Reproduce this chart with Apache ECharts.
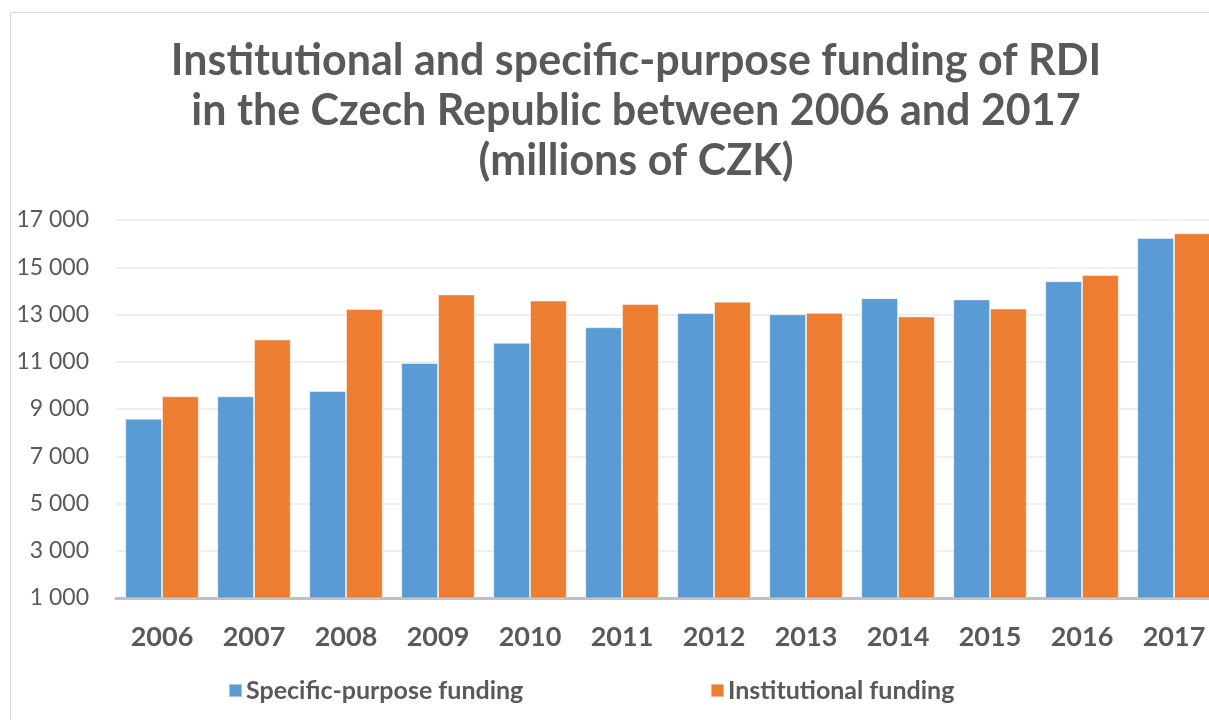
<!DOCTYPE html>
<html>
<head>
<meta charset="utf-8">
<script src="https://cdn.jsdelivr.net/npm/echarts@6/dist/echarts.min.js"></script>
<style>
  html, body { margin: 0; padding: 0; background: #fff; }
  #chart { width: 1209px; height: 720px; }
</style>
</head>
<body>
<div id="chart"></div>
<script>
var years = ['2006', '2007', '2008', '2009', '2010', '2011', '2012', '2013', '2014', '2015', '2016', '2017'];
var specificPurpose = [8590, 9540, 9760, 10950, 11800, 12460, 13060, 13010, 13690, 13640, 14410, 16240];
var institutional = [9540, 11940, 13230, 13850, 13590, 13440, 13540, 13070, 12920, 13250, 14670, 16440];
var yTicks = { min: 1000, max: 17000, step: 2000 };

var font = 'Lato, "Open Sans", sans-serif';
var grey = '#595959';

var myChart = echarts.init(document.getElementById('chart'), null, { renderer: 'canvas' });

function spaced(v) {
    return String(v).replace(/\B(?=(\d{3})+(?!\d))/g, ' ');
}

myChart.setOption({
    backgroundColor: '#fff',
    animation: false,
    title: {
        text: 'Institutional and specific-purpose funding of RDI\nin the Czech Republic between 2006 and 2017\n(millions of CZK)',
        left: 636,
        textAlign: 'center',
        top: 36,
        padding: 0,
        textStyle: {
            fontFamily: font,
            fontSize: 43,
            fontWeight: 'bold',
            color: grey,
            lineHeight: 50
        }
    },
    graphic: [{
        type: 'rect',
        shape: { x: 10.5, y: 12.5, width: 1400, height: 900 },
        style: { fill: 'none', stroke: '#d9d9d9', lineWidth: 1 },
        silent: true
    }],
    legend: [{
        data: ['Specific-purpose funding'],
        left: 223,
        top: 673,
        icon: 'rect',
        itemWidth: 13,
        itemHeight: 13,
        itemGap: 8,
        textStyle: { fontFamily: font, fontSize: 25, fontWeight: 'bold', color: grey, padding: [0, 0, 0, -1] }
    }, {
        data: ['Institutional funding'],
        left: 705,
        top: 673,
        icon: 'rect',
        itemWidth: 13,
        itemHeight: 13,
        textStyle: { fontFamily: font, fontSize: 25, fontWeight: 'bold', color: grey, padding: [0, 0, 0, -1] }
    }],
    grid: {
        left: 116,
        top: 220,
        width: 1104,
        height: 378,
        containLabel: false,
        outerBoundsMode: 'none'
    },
    xAxis: {
        type: 'category',
        data: years,
        axisTick: { show: false },
        axisLine: { lineStyle: { color: '#bfbfbf', width: 3 } },
        axisLabel: {
            margin: 26,
            fontFamily: font,
            fontSize: 27,
            fontWeight: 'bold',
            color: grey
        }
    },
    yAxis: {
        type: 'value',
        min: yTicks.min,
        max: yTicks.max,
        interval: yTicks.step,
        axisLine: { show: false },
        axisTick: { show: false },
        splitLine: { lineStyle: { color: '#efefef', width: 2 } },
        axisLabel: {
            margin: 27,
            fontFamily: font,
            fontSize: 23,
            color: grey,
            formatter: spaced
        }
    },
    series: [{
        name: 'Specific-purpose funding',
        type: 'bar',
        data: specificPurpose,
        barGap: '0%',
        barCategoryGap: '20%',
        itemStyle: { color: '#5b9bd5', borderColor: 'rgba(255,255,255,0.45)', borderWidth: 1 }
    }, {
        name: 'Institutional funding',
        type: 'bar',
        data: institutional,
        barGap: '0%',
        barCategoryGap: '20%',
        itemStyle: { color: '#ed7d31', borderColor: 'rgba(255,255,255,0.45)', borderWidth: 1 }
    }]
});
</script>
</body>
</html>
